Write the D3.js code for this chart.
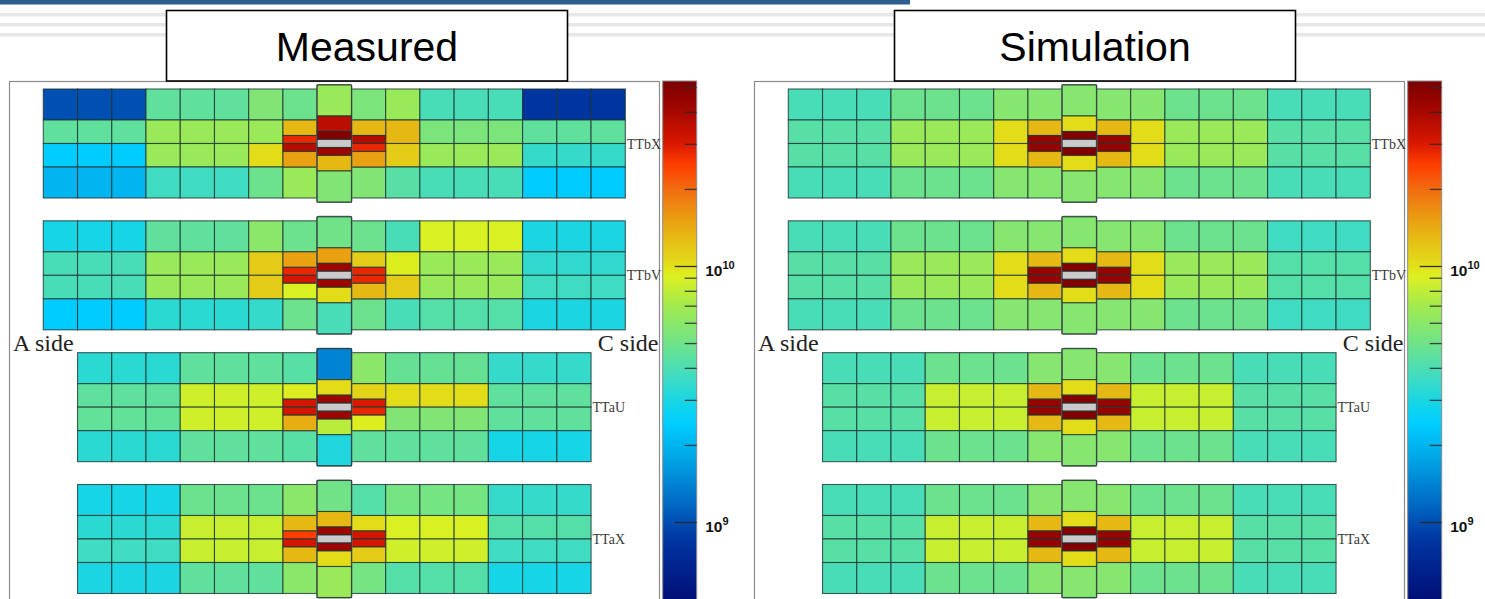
<!DOCTYPE html>
<html><head><meta charset="utf-8">
<script src="https://cdn.jsdelivr.net/npm/d3@7"></script>
<style>body{margin:0;background:#fff;overflow:hidden}svg{display:block}</style>
</head><body>
<svg id="c" width="1485" height="599"></svg>
<script>
// ---------------- DATA (hit counts, in units of 1e9) ----------------
const unit = 1e9;
const panelTitles = ["Measured", "Simulation"];
const layerNames = ["TTbX", "TTbV", "TTaU", "TTaX"];
const sideLabels = ["A side", "C side"];
const colorbarMajorTicks = [1e9, 1e10];
const colorbarMinorTicks = [2e9,3e9,4e9,5e9,6e9,7e9,8e9,9e9,2e10,3e10,4e10,5e10];
const n = null;

// main sector grid: 4 rows x 17 columns (col 8 = beam-pipe column; inner split sectors are separate)
const measTTbX = [
  [1.0,1.0,1.0, 4.5,4.5,4.5, 5.6,4.9, 6.6, 5.4,6.6, 3.9,3.9,3.9, 0.85,0.85,0.85],
  [4.5,4.5,4.5, 6.6,6.6,6.6, 6.6,n, n, n,13, 5.4,5.4,5.4, 4.5,4.5,4.5],
  [2.4,2.4,2.4, 6.6,6.6,6.6, 10.3,n, n, n,11.5, 6.6,6.6,6.6, 3.5,3.5,3.5],
  [2.0,2.0,2.0, 3.7,3.7,3.7, 4.9,6.6, 5.6, 5.6,4.3, 3.9,3.9,3.9, 2.4,2.4,2.4]];
const measTTbXInner = [[13,28,37,15],[36,50,43,13],[13,37,28,15]];

const measTTbV = [
  [2.9,2.9,2.9, 4.5,4.5,4.5, 6.0,4.9, 5.0, 4.9,3.9, 9.0,9.0,9.0, 3.0,3.0,3.0],
  [3.9,3.9,3.9, 6.6,6.6,6.6, 11.5,n, n, n,9.2, 6.6,6.6,6.6, 3.4,3.4,3.4],
  [3.9,3.9,3.9, 6.6,6.6,6.6, 11.5,n, n, n,11.5, 6.6,6.6,6.6, 3.7,3.7,3.7],
  [2.4,2.4,2.4, 3.3,3.3,3.3, 3.5,4.9, 3.9, 4.9,3.9, 4.2,4.2,4.2, 3.0,3.0,3.0]];
const measTTbVInner = [[15,28,31,9.0],[15,43,43,10.3],[11.5,28,28,13]];

const measTTaU = [
  [n, 3.3,3.3,3.3, 4.5,4.5,4.5, 4.3, 1.4, 6.0, 4.7,4.7,4.7, 3.5,3.5,3.5, n],
  [n, 4.5,4.5,4.5, 8.6,8.6,8.6, n, n, n, 10.3,10.3,10.3, 4.5,4.5,4.5, n],
  [n, 4.6,4.6,4.6, 8.6,8.6,8.6, n, n, n, 5.6,5.6,5.6, 4.5,4.5,4.5, n],
  [n, 3.3,3.3,3.3, 4.5,4.5,4.5, 4.3, 3.1, 4.5, 4.5,4.5,4.5, 2.9,2.9,2.9, n]];
const measTTaUInner = [[9.3,31,31,14],[10.3,43,43,7.8],[10.8,30,28,9.3]];

const measTTaX = [
  [n, 2.9,2.9,2.9, 4.9,4.9,4.9, 6.0, 5.0, 4.2, 5.2,5.2,5.2, 3.5,3.5,3.5, n],
  [n, 3.3,3.3,3.3, 8.3,8.3,8.3, n, n, n, 9.0,9.0,9.0, 4.2,4.2,4.2, n],
  [n, 3.7,3.7,3.7, 8.3,8.3,8.3, n, n, n, 8.6,8.6,8.6, 3.7,3.7,3.7, n],
  [n, 3.0,3.0,3.0, 4.5,4.5,4.5, 6.0, 6.6, 5.2, 4.2,4.2,4.2, 2.9,2.9,2.9, n]];
const measTTaXInner = [[13,25,31,13],[13,43,43,10.3],[10.3,31,31,11.5]];

const simTTbX = [
  [3.9,3.9,3.9, 4.9,4.9,4.9, 5.8,5.8, 5.8, 5.8,5.8, 4.9,4.9,4.9, 3.9,3.9,3.9],
  [4.3,4.3,4.3, 6.6,6.6,6.6, 10.3,n, n, n,10.3, 6.6,6.6,6.6, 4.3,4.3,4.3],
  [4.3,4.3,4.3, 6.6,6.6,6.6, 10.3,n, n, n,10.3, 6.6,6.6,6.6, 4.3,4.3,4.3],
  [3.9,3.9,3.9, 4.9,4.9,4.9, 5.8,5.8, 5.8, 5.8,5.8, 4.9,4.9,4.9, 3.9,3.9,3.9]];
const simTTbXInner = [[13,45,45,13],[10.3,50,50,10.3],[13,45,45,13]];

const simTTbV = [
  [3.9,3.9,3.9, 4.9,4.9,4.9, 5.8,5.8, 5.8, 5.8,5.8, 4.9,4.9,4.9, 3.7,3.7,3.7],
  [4.3,4.3,4.3, 6.6,6.6,6.6, 10.3,n, n, n,10.3, 6.6,6.6,6.6, 4.2,4.2,4.2],
  [4.3,4.3,4.3, 6.6,6.6,6.6, 10.3,n, n, n,10.3, 6.6,6.6,6.6, 4.2,4.2,4.2],
  [3.9,3.9,3.9, 4.9,4.9,4.9, 5.8,5.8, 5.8, 5.8,5.8, 4.9,4.9,4.9, 3.7,3.7,3.7]];
const simTTbVInner = [[13,45,45,13],[10.3,50,50,10.3],[13,45,45,13]];

const simTTaU = [
  [n, 3.9,3.9,3.9, 4.9,4.9,4.9, 5.8, 5.8, 5.8, 4.9,4.9,4.9, 3.9,3.9,3.9, n],
  [n, 4.3,4.3,4.3, 8.3,8.3,8.3, n, n, n, 8.3,8.3,8.3, 4.3,4.3,4.3, n],
  [n, 4.3,4.3,4.3, 8.3,8.3,8.3, n, n, n, 8.3,8.3,8.3, 4.3,4.3,4.3, n],
  [n, 3.9,3.9,3.9, 4.9,4.9,4.9, 5.8, 5.8, 5.8, 4.9,4.9,4.9, 3.9,3.9,3.9, n]];
const simTTaUInner = [[13,45,45,13],[10.3,50,50,10.3],[13,45,45,13]];

const simTTaX = [
  [n, 3.9,3.9,3.9, 4.9,4.9,4.9, 5.8, 5.8, 5.8, 4.9,4.9,4.9, 3.9,3.9,3.9, n],
  [n, 4.3,4.3,4.3, 8.3,8.3,8.3, n, n, n, 8.3,8.3,8.3, 4.3,4.3,4.3, n],
  [n, 4.3,4.3,4.3, 8.3,8.3,8.3, n, n, n, 8.3,8.3,8.3, 4.3,4.3,4.3, n],
  [n, 3.9,3.9,3.9, 4.9,4.9,4.9, 5.8, 5.8, 5.8, 4.9,4.9,4.9, 3.9,3.9,3.9, n]];
const simTTaXInner = [[13,45,45,13],[10.3,50,50,10.3],[13,45,45,13]];

// palette stops (log10 value -> colour), ROOT-style rainbow
const paletteLog = [8.70, 8.93, 9.05, 9.25, 9.38, 9.45, 9.57, 9.70, 9.84, 9.96, 10.00, 10.16, 10.29, 10.40, 10.48, 10.60, 10.72];
const paletteCol = ["#000f78","#0035a0","#0062c0","#00a6e6","#00ccff","#10d4ec","#40dcc0","#70e388","#a0ea50","#dcf020","#e2e01a","#e8a812","#f07010","#ff3c00","#d81800","#a80800","#7a0000"];

// ---------------- DRAWING ----------------
const panels = [
  {title: panelTitles[0], boxX: 166.5, layers: [[measTTbX, measTTbXInner],[measTTbV, measTTbVInner],[measTTaU, measTTaUInner],[measTTaX, measTTaXInner]]},
  {title: panelTitles[1], boxX: 894.5 - 745, layers: [[simTTbX, simTTbXInner],[simTTbV, simTTbVInner],[simTTaU, simTTaUInner],[simTTaX, simTTaXInner]]}
];

const svg = d3.select("#c");
const color = d3.scaleLinear().domain(paletteLog).range(paletteCol).clamp(true);
const fill = v => color(Math.log10(v * unit));

const panelX = d3.scaleLinear().domain([0, 1]).range([0, 745]);
const xCol = d3.scaleLinear().domain([0, 17]).range([43.3, 625.3]);
const layerTop = d3.scaleLinear().domain([0, 3]).range([89, 484.5]);
const yU = d3.scaleLinear().domain([0, 109]).range([0, 109]);
const rowEdges = [0, 31, 54.5, 78, 109];
const subEdges = [31, 46.5, 54.5, 62.5, 78];
const centerEdges = [-4, 27, 42.5, 50.5, 58.5, 66.5, 82, 113];
const yLog = d3.scaleLog().domain([1e9, 1e10]).range([522, 266]);

// slide background decoration
svg.append("rect").attr("x", 0).attr("y", 0).attr("width", 910).attr("height", 4.5).attr("fill", "#2e5d92");
[15, 25, 35].forEach(y => svg.append("rect").attr("x", 0).attr("y", y - 2).attr("width", 1485).attr("height", 3.5).attr("fill", "#e7e7e7"));

function buildCells(main, inner) {
  const cells = [];
  main.forEach((row, r) => row.forEach((v, c) => {
    if (v == null || c === 8) return;
    cells.push({c0: c, y0: rowEdges[r], y1: rowEdges[r + 1], v});
  }));
  [[7, inner[0]], [9, inner[2]]].forEach(([c, vals]) =>
    vals.forEach((v, k) => cells.push({c0: c, y0: subEdges[k], y1: subEdges[k + 1], v})));
  const cv = [main[0][8], inner[1][0], inner[1][1], null, inner[1][2], inner[1][3], main[3][8]];
  cv.forEach((v, k) => cells.push({c0: 8, y0: centerEdges[k], y1: centerEdges[k + 1], v, center: true}));
  return cells;
}

panels.forEach((p, pi) => {
  const g = svg.append("g").attr("transform", `translate(${panelX(pi)},0)`);
  // frame
  g.append("rect").attr("x", 9.5).attr("y", 81.5).attr("width", 650).attr("height", 540)
    .attr("fill", "#fff").attr("stroke", "#8c8c8c").attr("stroke-width", 1.2);

  p.layers.forEach(([main, inner], li) => {
    const lg = g.append("g").attr("transform", `translate(0,${layerTop(li)})`);
    const cells = buildCells(main, inner);
    lg.selectAll("rect.cell").data(cells.filter(d => !d.center)).join("rect")
      .attr("class", "cell")
      .attr("x", d => xCol(d.c0)).attr("width", xCol(1) - xCol(0))
      .attr("y", d => yU(d.y0)).attr("height", d => yU(d.y1) - yU(d.y0))
      .attr("fill", d => fill(d.v))
      .attr("stroke", "#1d3532").attr("stroke-opacity", 0.8).attr("stroke-width", 1.1);
    // beam-pipe column
    lg.append("rect").attr("x", xCol(8)).attr("width", xCol(1) - xCol(0))
      .attr("y", yU(centerEdges[0])).attr("height", yU(centerEdges[7]) - yU(centerEdges[0]))
      .attr("fill", "none").attr("stroke", "#6a6a6a").attr("stroke-width", 2).attr("rx", 1.5);
    lg.selectAll("rect.cc").data(cells.filter(d => d.center)).join("rect")
      .attr("class", "cc")
      .attr("x", d => xCol(d.c0)).attr("width", xCol(1) - xCol(0))
      .attr("y", d => yU(d.y0)).attr("height", d => yU(d.y1) - yU(d.y0))
      .attr("fill", d => d.v == null ? "#cacaca" : fill(d.v))
      .attr("stroke", "#1d3532").attr("stroke-opacity", 0.8).attr("stroke-width", 1.1);
    // layer label
    const lastCol = main[0][16] == null ? 16 : 17;
    lg.append("text").attr("x", xCol(lastCol) + 1.5).attr("y", yU(54.5) + 5)
      .attr("font-family", "Liberation Serif, Times New Roman, serif").attr("font-size", 14)
      .attr("fill", "#3a3a3a").text(layerNames[li]);
  });

  // side labels
  g.append("text").attr("x", 13).attr("y", 351).attr("font-family", "Liberation Serif, serif")
    .attr("font-size", 24).attr("fill", "#222").text(sideLabels[0]);
  g.append("text").attr("x", 658.5).attr("y", 351).attr("text-anchor", "end").attr("font-family", "Liberation Serif, serif")
    .attr("font-size", 24).attr("fill", "#222").text(sideLabels[1]);

  // colour bar
  const cb = g.append("g");
  const ys = d3.range(81, 600, 1);
  cb.selectAll("rect.cbs").data(ys).join("rect").attr("class", "cbs")
    .attr("x", 662.7).attr("width", 34).attr("y", d => d).attr("height", 1.2)
    .attr("fill", d => color(Math.log10(yLog.invert(d + 0.5))));
  cb.append("rect").attr("x", 662.7).attr("y", 81).attr("width", 34).attr("height", 540)
    .attr("fill", "none").attr("stroke", "#8c8c8c").attr("stroke-width", 1);
  const minorAxis = d3.axisRight(yLog).tickValues(colorbarMinorTicks).tickSize(-12).tickFormat("");
  cb.append("g").attr("transform", "translate(696.7,0)").call(minorAxis)
    .call(s => s.select(".domain").remove())
    .call(s => s.selectAll("line").attr("stroke", "#2a2a2a").attr("stroke-width", 1.3).attr("stroke-opacity", 0.85));
  const majorAxis = d3.axisRight(yLog).tickValues(colorbarMajorTicks).tickSize(-22).tickPadding(8).tickFormat("");
  const mg = cb.append("g").attr("transform", "translate(696.7,0)").call(majorAxis);
  mg.select(".domain").remove();
  mg.selectAll("line").attr("stroke", "#2a2a2a").attr("stroke-width", 1.3);
  mg.selectAll(".tick text").each(function(d) {
    const t = d3.select(this).attr("x", 8.5).attr("dy", null).attr("y", 9.5)
      .attr("fill", "#111").attr("font-family", "Liberation Sans, Arial, sans-serif")
      .attr("font-weight", "bold").attr("font-size", 15.5).text(null);
    t.append("tspan").text("10");
    t.append("tspan").attr("font-size", 11).attr("dy", -7.5).text(String(Math.round(Math.log10(d))));
  });

  // title box
  g.append("rect").attr("x", p.boxX).attr("y", 10.5).attr("width", 401).attr("height", 70.5)
    .attr("fill", "#fff").attr("stroke", "#000").attr("stroke-width", 1.6);
  g.append("text").attr("x", p.boxX + 200.5).attr("y", 61).attr("text-anchor", "middle")
    .attr("font-family", "Liberation Sans, Arial, sans-serif").attr("font-size", 41).attr("fill", "#000")
    .text(p.title);
});
</script>
</body></html>
